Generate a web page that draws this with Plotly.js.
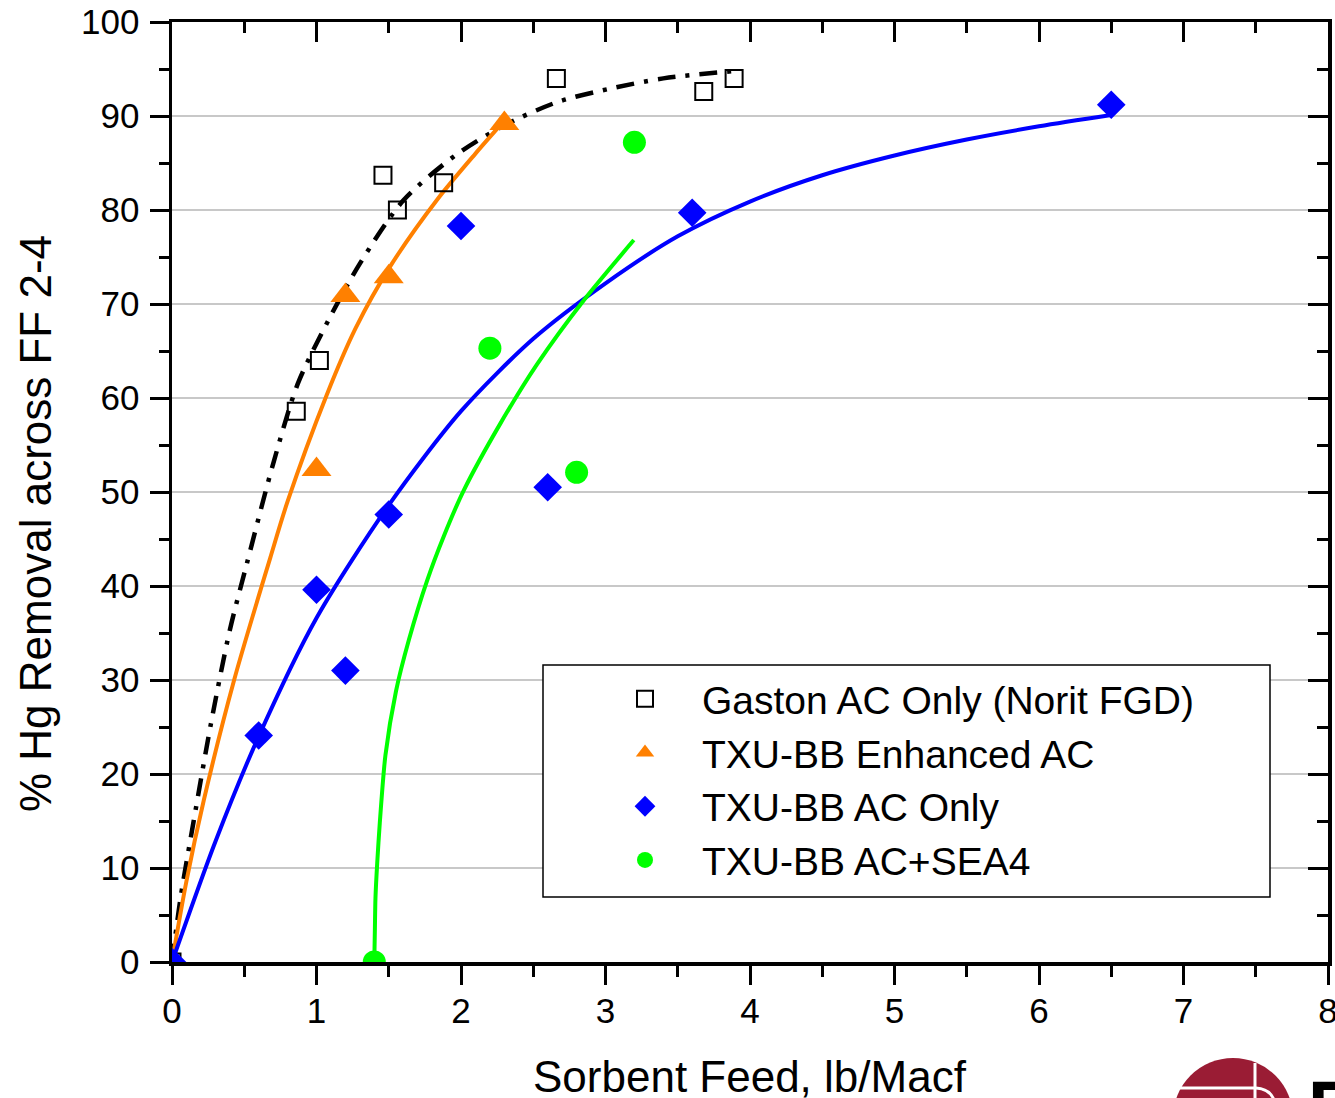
<!DOCTYPE html>
<html>
<head>
<meta charset="utf-8">
<script src="https://cdn.plot.ly/plotly-3.0.1.min.js"></script>
<style>
html,body{margin:0;padding:0;background:#fff;}
#chart{width:1335px;height:1098px;}
</style>
</head>
<body>
<div id="chart"></div>
<script>
// ---- Data ----
const gastonX = [0, 0.86, 1.02, 1.46, 1.56, 1.88, 2.66, 3.68, 3.89];
const gastonY = [0, 58.6, 64.0, 83.7, 80.0, 82.9, 94.0, 92.6, 94.0];

const enhancedX = [1.0, 1.2, 1.5, 2.3];
const enhancedY = [52.4, 70.9, 72.9, 89.2];

const acOnlyX = [0, 0.6, 1.0, 1.2, 1.5, 2.0, 2.6, 3.6, 6.5];
const acOnlyY = [0, 24.1, 39.6, 31.0, 47.6, 78.3, 50.5, 79.7, 91.2];

const sea4X = [1.4, 2.2, 2.8, 3.2];
const sea4Y = [0, 65.3, 52.1, 87.2];

// fitted curves
const fitGastonX = [0, 0.06, 0.15, 0.27, 0.4, 0.52, 0.7, 0.87, 1.08, 1.3, 1.6, 1.96, 2.3, 2.67, 3.03, 3.4, 3.9];
const fitGastonY = [0, 6.9, 15.0, 25.4, 35.3, 42.5, 53.0, 61.5, 68.2, 74.3, 81.0, 85.8, 89.0, 91.5, 92.9, 94.0, 94.8];

const fitEnhancedX = [0, 0.1, 0.22, 0.43, 0.68, 0.8, 1.07, 1.27, 1.51, 1.84, 2.1, 2.3];
const fitEnhancedY = [0, 8.6, 17.2, 30.0, 43.0, 49.0, 60.3, 67.4, 74.0, 81.2, 86.0, 89.5];

const fitAcOnlyX = [0, 0.3, 0.6, 1.0, 1.5, 2.0, 2.5, 3.0, 3.5, 4.0, 4.5, 5.0, 5.5, 6.0, 6.5];
const fitAcOnlyY = [0, 12.8, 24.0, 36.6, 48.6, 58.6, 66.3, 72.2, 77.2, 80.9, 83.7, 85.8, 87.5, 88.9, 90.1];

const fitSea4X = [1.4, 1.404, 1.408, 1.42, 1.438, 1.477, 1.55, 1.64, 1.766, 1.881, 2.02, 2.273, 2.527, 2.85, 3.196];
const fitSea4Y = [0, 3.5, 6.8, 10.5, 14.8, 22.0, 28.8, 34.3, 40.6, 45.3, 50.2, 57.3, 63.6, 70.4, 76.8];

const seriesNames = ["Gaston AC Only (Norit FGD)", "TXU-BB Enhanced AC", "TXU-BB AC Only", "TXU-BB AC+SEA4"];
const xTitle = "Sorbent Feed, lb/Macf";
const yTitle = "% Hg Removal across FF 2-4";

// ---- Styling ----
const FONT = "Liberation Sans, Arial, sans-serif";
const ORANGE = "#ff8000", BLUE = "#0000ff", GREEN = "#00ff00", BLACK = "#000000";

const traces = [
  {x: fitGastonX, y: fitGastonY, mode: "lines", line: {shape: "spline", smoothing: 0.8, color: BLACK, width: 4.5, dash: "18px,10px,4px,10px"}, showlegend: false, hoverinfo: "skip"},
  {x: fitEnhancedX, y: fitEnhancedY, mode: "lines", line: {shape: "spline", smoothing: 0.8, color: ORANGE, width: 4}, showlegend: false, hoverinfo: "skip"},
  {x: fitAcOnlyX, y: fitAcOnlyY, mode: "lines", line: {shape: "spline", smoothing: 0.8, color: BLUE, width: 4}, showlegend: false, hoverinfo: "skip"},
  {x: fitSea4X, y: fitSea4Y, mode: "lines", line: {shape: "spline", smoothing: 0.7, color: GREEN, width: 4}, showlegend: false, hoverinfo: "skip"},
  {x: gastonX, y: gastonY, mode: "markers", name: seriesNames[0],
   marker: {symbol: "square-open", size: 17, color: BLACK, line: {width: 2, color: BLACK}}},
  {x: enhancedX, y: enhancedY, mode: "markers", name: seriesNames[1],
   marker: {symbol: "triangle-up", size: 26, color: ORANGE}},
  {x: acOnlyX, y: acOnlyY, mode: "markers", name: seriesNames[2],
   marker: {symbol: "diamond", size: 22, color: BLUE}},
  {x: sea4X, y: sea4Y, mode: "markers", name: seriesNames[3],
   marker: {symbol: "circle", size: 23, color: GREEN}},
  // empty trace so the mirrored top/right axes exist
  {x: [], y: [], xaxis: "x2", yaxis: "y2", showlegend: false, hoverinfo: "skip"}
];

const tickCommon = {
  ticks: "outside", ticklen: 19, tickwidth: 3, tickcolor: BLACK,
  showline: true, linewidth: 3.5, linecolor: BLACK, zeroline: false,
  tickfont: {family: FONT, size: 35, color: BLACK}
};

const W = 1335, H = 1098, L = 172, R = 7, T = 22, B = 136;
const pw = W - L - R, ph = H - T - B;
const px = v => (v - L) / pw;        // pixel -> paper x
const py = v => (H - B - v) / ph;    // pixel -> paper y

const layout = {
  width: W, height: H,
  margin: {l: L, r: R, t: T, b: B, pad: 0},
  paper_bgcolor: "#ffffff", plot_bgcolor: "#ffffff",
  font: {family: FONT, color: BLACK},
  xaxis: Object.assign({}, tickCommon, {
    range: [0, 8], dtick: 1, tick0: 0, showgrid: false,
    minor: {dtick: 0.5, ticks: "outside", ticklen: 11, tickwidth: 3, tickcolor: BLACK, showgrid: false},
    ticklabelstandoff: -4, ticklabeloverflow: "allow"
  }),
  yaxis: Object.assign({}, tickCommon, {
    range: [0, 100], dtick: 10, tick0: 0,
    showgrid: true, gridcolor: "#c8c8c8", gridwidth: 2,
    minor: {dtick: 5, ticks: "outside", ticklen: 10, tickwidth: 3, tickcolor: BLACK, showgrid: false},
    ticklabelstandoff: 3, ticklabeloverflow: "allow"
  }),
  xaxis2: {overlaying: "x", anchor: "y", side: "top", range: [0, 8], dtick: 1, tick0: 0,
    ticks: "inside", ticklen: 20, tickwidth: 3, tickcolor: BLACK, showticklabels: false,
    showline: true, linewidth: 3.5, linecolor: BLACK, showgrid: false, zeroline: false,
    minor: {dtick: 0.5, ticks: "inside", ticklen: 11, tickwidth: 3, tickcolor: BLACK, showgrid: false}},
  yaxis2: {overlaying: "y", anchor: "x", side: "right", range: [0, 100], dtick: 10, tick0: 0,
    ticks: "inside", ticklen: 20, tickwidth: 3, tickcolor: BLACK, showticklabels: false,
    showline: true, linewidth: 3.5, linecolor: BLACK, showgrid: false, zeroline: false,
    minor: {dtick: 5, ticks: "inside", ticklen: 11, tickwidth: 3, tickcolor: BLACK, showgrid: false}},
  showlegend: true,
  legend: {
    x: px(588), y: py(667), xanchor: "left", yanchor: "top",
    bgcolor: "rgba(0,0,0,0)", borderwidth: 0,
    font: {family: FONT, size: 39, color: BLACK},
    itemwidth: 104, traceorder: "normal", itemclick: false
  },
  shapes: [
    {type: "rect", xref: "paper", yref: "paper", x0: px(543), x1: px(1270), y0: py(897), y1: py(665),
     fillcolor: "#ffffff", line: {color: BLACK, width: 1.5}, layer: "above"},
    // partial logo at the bottom-right corner
    {type: "circle", xref: "paper", yref: "paper", x0: px(1173), x1: px(1293), y0: py(1178), y1: py(1058),
     fillcolor: "#9a1c34", line: {width: 0}, layer: "above"},
    {type: "line", xref: "paper", yref: "paper", x0: px(1180), x1: px(1256), y0: py(1088), y1: py(1088),
     line: {color: "#ffffff", width: 3}, layer: "above"},
    {type: "line", xref: "paper", yref: "paper", x0: px(1255), x1: px(1255), y0: py(1063), y1: py(1100),
     line: {color: "#ffffff", width: 3}, layer: "above"},
    {type: "path", xref: "paper", yref: "paper",
     path: "M " + px(1256) + " " + py(1088) + " Q " + px(1270) + " " + py(1089) + " " + px(1274) + " " + py(1100),
     line: {color: "#ffffff", width: 3}, layer: "above"}
  ],
  annotations: [
    {text: xTitle, xref: "paper", yref: "paper", x: 0.5, y: py(1076), xanchor: "center", yanchor: "middle",
     borderpad: 0, showarrow: false, font: {family: FONT, size: 44, color: BLACK}},
    {text: yTitle, xref: "paper", yref: "paper", x: px(35), y: py(524), xanchor: "center", yanchor: "middle",
     textangle: -90, showarrow: false, font: {family: FONT, size: 44, color: BLACK}},
    {text: "<b>EERC</b>", xref: "paper", yref: "paper", x: px(1306), y: py(1064), xanchor: "left", yanchor: "top",
     showarrow: false, font: {family: FONT, size: 74, color: BLACK}}
  ]
};

Plotly.newPlot("chart", traces, layout, {displayModeBar: false, staticPlot: true});
</script>
</body>
</html>
